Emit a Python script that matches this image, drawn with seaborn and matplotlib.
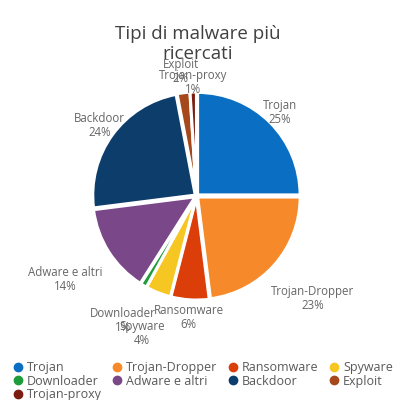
import numpy as np
import matplotlib.pyplot as plt
from matplotlib.lines import Line2D
import seaborn as sns

# Data
categories = ["Trojan", "Trojan-Dropper", "Ransomware", "Spyware", "Downloader",
              "Adware e altri", "Backdoor", "Exploit", "Trojan-proxy"]
shares = [25, 23, 6, 4, 1, 14, 24, 2, 1]
colors = ["#0A6FC2", "#F68A2A", "#DC3E0A", "#F6C622", "#1E9B3A",
          "#7A4789", "#0D3D6B", "#A5481B", "#7B1C10"]

# radial position of each data label (Excel "best fit" look)
label_dist = [1.15, 1.51, 1.19, 1.44, 1.41, 1.52, 1.17, 1.22, 1.11]

sns.set_theme(style="white")
plt.rcParams["font.family"] = ["Open Sans", "DejaVu Sans"]

fig = plt.figure(figsize=(4.04, 4.0), dpi=100)
R = 102.5
cx, cy = 196.5, 196
half = 1.5 * R
ax = fig.add_axes([(cx - half) / 404, (400 - cy - half) / 400, 2 * half / 404, 2 * half / 400])

wedges, _ = ax.pie(shares, colors=colors, startangle=90, counterclock=False,
                   wedgeprops=dict(edgecolor="white", linewidth=2.2),
                   explode=[0.015] * len(shares))
ax.set_xlim(-1.5, 1.5)
ax.set_ylim(-1.5, 1.5)
ax.set_aspect("equal")
ax.axis("off")

total = sum(shares)
for w, name, v, d in zip(wedges, categories, shares, label_dist):
    ang = np.deg2rad((w.theta1 + w.theta2) / 2)
    ax.text(d * np.cos(ang), d * np.sin(ang), f"{name}\n{v / total * 100:.0f}%",
            ha="center", va="center", fontsize=8.3, color="#666666", linespacing=1.1)

fig.text(0.49, 0.89, "Tipi di malware più\nricercati", ha="center", va="center",
         fontsize=13.5, color="#404040", linespacing=1.2)

# legend reads row-wise, matplotlib fills column-wise (3,2,2,2 items per column)
order = [0, 4, 8, 1, 5, 2, 6, 3, 7]
handles = [Line2D([], [], marker="o", linestyle="", markersize=6, markerfacecolor=colors[i],
                  markeredgecolor=colors[i]) for i in order]
fig.legend(handles, [categories[i] for i in order], loc="lower left",
           bbox_to_anchor=(0.0, -0.031), ncol=4, frameon=False, fontsize=9,
           handletextpad=0.25, columnspacing=0.7, labelspacing=0.05, handlelength=1.0,
           labelcolor="#595959")

plt.savefig("out.png", dpi=100)
plt.close()
